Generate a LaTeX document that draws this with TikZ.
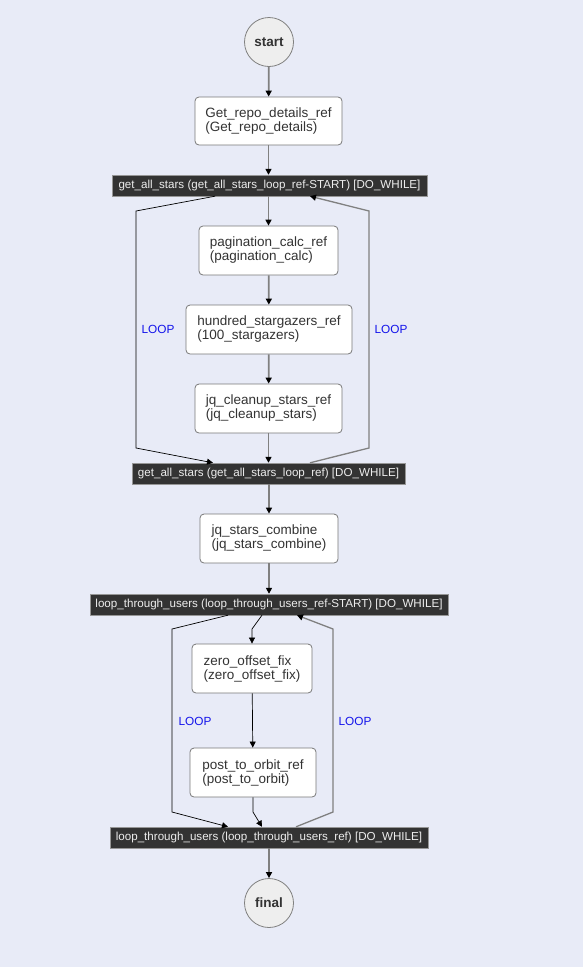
\documentclass[tikz,border=0pt]{standalone}
\usepackage{fontspec}
\setmainfont{Liberation Sans}
\usetikzlibrary{arrows.meta,calc}
\definecolor{bgc}{RGB}{232,235,247}
\definecolor{barfill}{RGB}{51,51,51}
\definecolor{barline}{RGB}{150,150,150}
\definecolor{boxline}{RGB}{120,120,120}
\definecolor{circfill}{RGB}{238,238,238}
\definecolor{edgegray}{RGB}{128,128,128}
\definecolor{loopblue}{RGB}{20,20,235}
\definecolor{txt}{RGB}{51,51,51}
\tikzset{
  taskbox/.style={draw=boxline, fill=white, rounded corners=4pt, line width=0.8pt,
    inner sep=0pt, align=left, text=txt, font=\fontsize{13.5}{14}\selectfont},
  barbox/.style={draw=barline, fill=barfill, inner sep=0pt, minimum height=21pt,
    text=white!93!black, font=\fontsize{11.6}{13}\selectfont},
  termc/.style={circle, draw=edgegray, fill=circfill, line width=0.8pt, minimum size=49pt,
    inner sep=0pt, text=txt, font=\bfseries\fontsize{13.5}{14}\selectfont},
  mainedge/.style={draw=edgegray, line width=1.8pt, -{Triangle[length=6pt,width=6pt,black]}},
  thinedge/.style={draw=black, line width=0.7pt, -{Triangle[length=6pt,width=6pt,black]}},
  loopedgeg/.style={draw=edgegray, line width=1.3pt, -{Triangle[length=6pt,width=6pt,black]}},
  looplbl/.style={text=loopblue, font=\fontsize{11.8}{13}\selectfont, inner sep=0pt},
}
\begin{document}
\begin{tikzpicture}[x=1pt,y=-1pt]
\fill[bgc] (0,0) rectangle (583,967);
\useasboundingbox (0,0) rectangle (583,967);

\node[termc] (start) at (269,42) {start};
\node[taskbox, minimum width=147pt, minimum height=48pt] (repo) at (268.5,121) {Get\_repo\_details\_ref\\(Get\_repo\_details)};
\node[barbox, minimum width=315pt] (bar1) at (269.5,185.5) {get\_all\_stars (get\_all\_stars\_loop\_ref-START) [DO\_WHILE]};
\node[taskbox, minimum width=139pt, minimum height=49pt] (pag) at (268.5,250.5) {pagination\_calc\_ref\\(pagination\_calc)};
\node[taskbox, minimum width=166pt, minimum height=49pt] (hund) at (269,329.5) {hundred\_stargazers\_ref\\(100\_stargazers)};
\node[taskbox, minimum width=147pt, minimum height=49pt] (jqc) at (268.5,408.5) {jq\_cleanup\_stars\_ref\\(jq\_cleanup\_stars)};
\node[barbox, minimum width=273pt] (bar2) at (268.5,473.5) {get\_all\_stars (get\_all\_stars\_loop\_ref) [DO\_WHILE]};
\node[taskbox, minimum width=138pt, minimum height=49pt] (comb) at (269,538.5) {jq\_stars\_combine\\(jq\_stars\_combine)};
\node[barbox, minimum width=358pt] (bar3) at (269,604.5) {loop\_through\_users (loop\_through\_users\_ref-START) [DO\_WHILE]};
\node[taskbox, minimum width=120pt, minimum height=49pt] (zero) at (252,668.5) {zero\_offset\_fix\\(zero\_offset\_fix)};
\node[taskbox, minimum width=126pt, minimum height=49pt] (post) at (253,772.5) {post\_to\_orbit\_ref\\(post\_to\_orbit)};
\node[barbox, minimum width=318pt] (bar4) at (269,837.5) {loop\_through\_users (loop\_through\_users\_ref) [DO\_WHILE]};
\node[termc] (final) at (269,903) {final};

\node[looplbl] (l1) at (158,329) {LOOP};
\node[looplbl] (l2) at (391,329) {LOOP};
\node[looplbl] (l3) at (195,721) {LOOP};
\node[looplbl] (l4) at (355,721) {LOOP};

\draw[mainedge] (start) -- (repo);
\draw[mainedge] (repo) -- (bar1.north -| repo);
\draw[mainedge] (bar1.south -| pag) -- (pag);
\draw[mainedge] (pag) -- (hund);
\draw[mainedge] (hund) -- (jqc);
\draw[mainedge] (jqc) -- (bar2.north -| jqc);
\draw[mainedge] (bar2.south -| comb) -- (comb);
\draw[mainedge] (comb) -- (bar3.north -| comb);
\draw[mainedge] (bar4.south -| final) -- (final);

\draw[thinedge] ($(bar1.south)+(-54.5,0)$) -- (136,211) -- (136,448) -- ($(bar2.north)+(-55.5,0)$);
\draw[loopedgeg] ($(bar2.north)+(41.5,0)$) -- (369,448) -- (369,211) -- ($(bar1.south)+(40.5,0)$);

\draw[thinedge] ($(bar3.south)+(-7,0)$) -- (252,629) -- (zero.north);
\draw[thinedge] (zero) -- (post);
\draw[thinedge] (post.south) -- (253,812) -- ($(bar4.north)+(-7,0)$);
\draw[thinedge] ($(bar3.south)+(-41,0)$) -- (172,629) -- (172,812) -- ($(bar4.north)+(-41,0)$);
\draw[loopedgeg] ($(bar4.north)+(27,0)$) -- (333,812) -- (333,629) -- ($(bar3.south)+(28,0)$);
\end{tikzpicture}
\end{document}
